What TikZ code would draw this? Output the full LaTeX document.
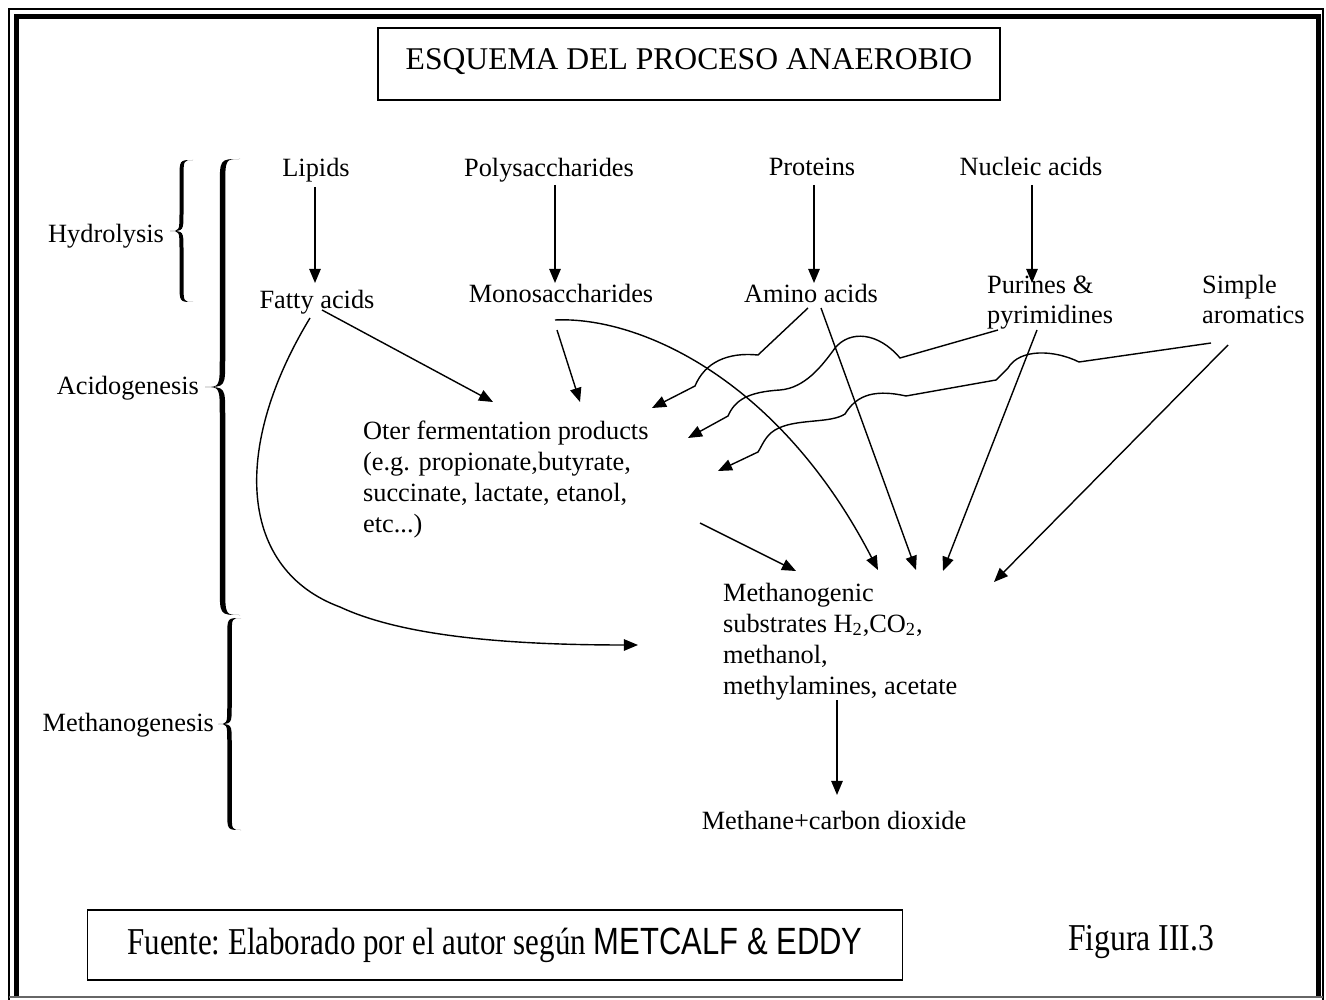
\documentclass[tikz,border=0pt]{standalone}
\usepackage{fontspec}
\setmainfont{Liberation Serif}
\newfontfamily\arialfont{Liberation Sans}
\usetikzlibrary{arrows.meta}
\tikzset{
  lbl/.style={inner sep=1pt, font=\fontsize{15}{17.6}\selectfont},
  blk/.style={lbl, align=left, anchor=base west},
  stage/.style={lbl, anchor=base east},
  ruled/.style={draw, line width=1pt, inner sep=0pt},
  flow/.style={-{Triangle[length=8pt,width=6.5pt]}, line width=0.8pt},
  % tapered curly brace: half height, width, stroke
  pics/tbrace/.style n args={3}{code={
    \pgfmathsetmacro\brh{#1}\pgfmathsetmacro\brw{#2}
    \pgfmathsetmacro\bra{#2/2-#3/2}\pgfmathsetmacro\brb{#2/2+#3/2}\pgfmathsetmacro\brr{0.8*#2}
    \fill (\brw,\brh) .. controls (\bra,\brh) .. (\bra,\brh-\brr) -- (\bra,\brr)
      .. controls (\bra,0) .. (0,0) .. controls (\bra,0) .. (\bra,-\brr) -- (\bra,-\brh+\brr)
      .. controls (\bra,-\brh) .. (\brw,-\brh) .. controls (\brb,-\brh) .. (\brb,-\brh+\brr)
      -- (\brb,-\brr) .. controls (\brb,0) .. (0,0) .. controls (\brb,0) .. (\brb,\brr)
      -- (\brb,\brh-\brr) .. controls (\brb,\brh) .. (\brw,\brh) -- cycle;
  }},
}

\begin{document}
\begin{tikzpicture}[x=0.02cm, y=-0.02cm]
    \useasboundingbox (0,0) rectangle (1326,1000);
    % double frame
    \draw[line width=0.6pt] (9,1000) -- (9,9) -- (1323,9) -- (1323,1000);
    \draw[line width=3.4pt] (16.5,997) -- (16.5,16.5) -- (1318.5,16.5) -- (1318.5,997);
    \draw[line width=0.6pt, black!60] (9,997) -- (1323,997);

    \node[ruled, minimum width=12.44cm, minimum height=1.44cm, font=\fontsize{18}{22}\selectfont,
      text height=13pt, text depth=7pt] (title) at (689,64) {ESQUEMA DEL PROCESO ANAEROBIO};

    % stages and braces
    \node[stage] (hydro) at (166,243) {Hydrolysis};
    \node[stage] (acido) at (201,395) {Acidogenesis};
    \node[stage] (metha) at (216,731) {Methanogenesis};
    \pic (hydrobrace) at (170,231) {tbrace={71}{23}{4}};
    \pic (acidobrace) at (205,387) {tbrace={228}{35}{5.5}};
    \pic (methabrace) at (218,724) {tbrace={106}{23}{4.5}};

    % polymers
    \node[lbl, anchor=base] (lipids) at (316,177) {Lipids};
    \node[lbl, anchor=base] (poly) at (549,177) {Polysaccharides};
    \node[lbl, anchor=base] (prot) at (812,176) {Proteins};
    \node[lbl, anchor=base] (nucl) at (1031,176) {Nucleic acids};
    % monomers
    \node[lbl, anchor=base] (fatty) at (317,309) {Fatty acids};
    \node[lbl, anchor=base] (mono) at (561,303) {Monosaccharides};
    \node[lbl, anchor=base] (amino) at (811,303) {Amino acids};
    \node[blk] (purines) at (985,324) {Purines \&\\pyrimidines};
    \node[blk] (arom) at (1200,324) {Simple\\aromatics};
    % products
    \node[blk] (oter) at (361,532) {Oter fermentation products\\(e.g. propionate,butyrate,\\succinate, lactate, etanol,\\etc...)};
    \node[blk] (msub) at (721,694) {Methanogenic\\substrates H\textsubscript{2},CO\textsubscript{2},\\methanol,\\methylamines, acetate};
    \node[lbl, anchor=base] (methane) at (834,829) {Methane+carbon dioxide};

    % source and figure number
    \node[ruled, minimum width=16.3cm, minimum height=1.4cm, font=\fontsize{18}{22}\selectfont] (fuente) at (495,945)
      {\frenchspacing\scalebox{0.98}[1.2]{Fuente: Elaborado por el autor según {\arialfont METCALF \& EDDY}}};
    \node[lbl, font=\fontsize{18}{22}\selectfont] (figura) at (1141,942) {\scalebox{1}[1.2]{Figura III.3}};

    % hydrolysis
    \coordinate (lipids-o) at (315,187);  \coordinate (fatty-i) at (315,283);
    \coordinate (poly-o) at (555,185);    \coordinate (mono-i) at (555,283);
    \coordinate (prot-o) at (814,185);    \coordinate (amino-i) at (814,283);
    \coordinate (nucl-o) at (1032,185);   \coordinate (purines-i) at (1032,283);
    \draw[flow] (lipids-o) -- (fatty-i);
    \draw[flow] (poly-o) -- (mono-i);
    \draw[flow] (prot-o) -- (amino-i);
    \draw[flow] (nucl-o) -- (purines-i);

    % acidogenesis
    \coordinate (oter-a) at (493,402);
    \coordinate (oter-b) at (580,402);
    \coordinate (oter-c) at (652,408);
    \coordinate (oter-d) at (688,438);
    \coordinate (oter-e) at (718,471);
    \coordinate (msub-a) at (638,645);
    \coordinate (msub-b) at (796,571);
    \coordinate (msub-c) at (878,570);
    \coordinate (msub-d) at (916,570);
    \coordinate (msub-e) at (943,571);
    \coordinate (msub-f) at (994,582);
    \draw[flow] (322,310) -- (oter-a);
    \draw[flow] (557,330) -- (oter-b);
    \draw[flow] (808,308) -- (758,355) .. controls (728,352) and (705,362) .. (695,386) -- (oter-c);
    \draw[flow] (998,330) -- (900,358) .. controls (878,332) and (850,330) .. (835,348)
      .. controls (822,366) and (805,388) .. (780,390) .. controls (748,392) and (735,400) .. (728,416) -- (oter-d);
    \draw[flow] (1211,343) -- (1079,362) .. controls (1055,350) and (1020,348) .. (1008,368) -- (996,380) -- (906,396)
      .. controls (870,388) and (855,398) .. (845,414) .. controls (830,424) and (795,418) .. (775,430)
      .. controls (765,436) and (762,446) .. (758,452) -- (oter-e);

    % methanogenesis
    \draw[flow] (310,318) .. controls (230,450) and (240,570) .. (340,607) .. controls (400,635) and (500,645) .. (msub-a);
    \draw[flow] (700,523) -- (msub-b);
    \draw[flow] (555,320) .. controls (640,316) and (780,380) .. (msub-c);
    \draw[flow] (821,308) -- (msub-d);
    \draw[flow] (1037,330) -- (msub-e);
    \draw[flow] (1228,345) -- (msub-f);
    \draw[flow] (837,700) -- (837,795);
  \end{tikzpicture}
\end{document}
